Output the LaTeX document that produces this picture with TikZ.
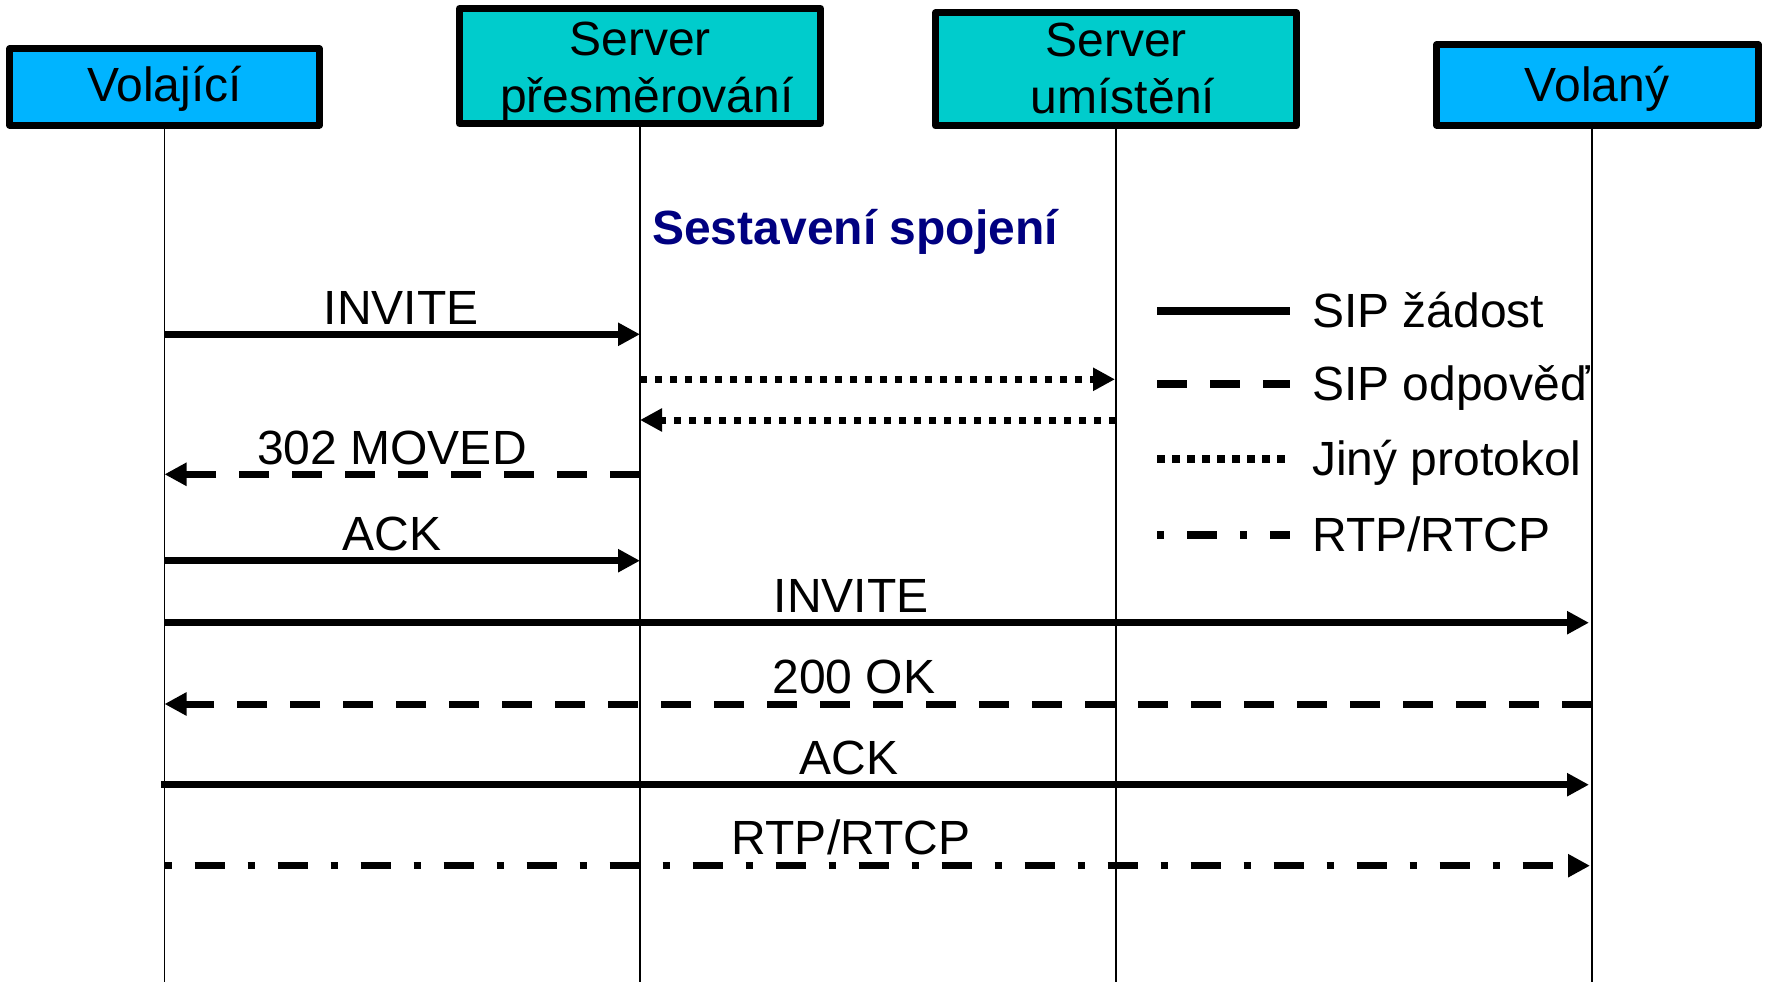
\documentclass[tikz,border=0pt]{standalone}
\usepackage{fontspec}
\setmainfont{Liberation Sans}
\usetikzlibrary{arrows.meta}

\definecolor{partyblue}{RGB}{0,180,255}
\definecolor{serverteal}{RGB}{0,204,204}
\definecolor{titlenavy}{RGB}{0,0,128}

\tikzset{
  actorbox/.style={draw=black, line width=7pt, inner sep=0pt, line join=round},
  bigtext/.style={inner sep=0pt, font=\fontsize{48pt}{57pt}\selectfont},
  msgtext/.style={bigtext, anchor=base},
  lifeline/.style={line width=1.8pt},
  tipend/.style={-{Triangle[length=22pt,width=22pt]}},
  sipreq/.style={line width=7pt, tipend},
  sipresp/.style={line width=7pt, tipend, dash pattern=on 30pt off 23pt},
  otherproto/.style={line width=7pt, tipend, dash pattern=on 7pt off 8pt},
  rtpflow/.style={line width=7pt, tipend, dash pattern=on 7pt off 23pt on 30pt off 23pt},
  legendline/.style={line width=8pt}
}

\begin{document}
\begin{tikzpicture}[x=1pt,y=-1pt]
\useasboundingbox (0,0) rectangle (1767,982);

% participants
\node[actorbox, fill=partyblue, minimum width=310pt, minimum height=76pt] (caller) at (164.5,87) {};
\node[actorbox, fill=serverteal, minimum width=361pt, minimum height=115pt] (redirect) at (640,66) {};
\node[actorbox, fill=serverteal, minimum width=361pt, minimum height=113pt] (location) at (1116,69.3) {};
\node[actorbox, fill=partyblue, minimum width=322pt, minimum height=80pt] (callee) at (1597.5,85) {};

\node[msgtext] (callert) at (164.5,101.5) {Volající};
\node[msgtext] (redirectt1) at (640,56) {Server};
\node[msgtext] (redirectt2) at (647,112) {přesměrování};
\node[msgtext] (locationt1) at (1116,57) {Server};
\node[msgtext] (locationt2) at (1123,113.5) {umístění};
\node[msgtext] (calleet) at (1597,101) {Volaný};

% lifelines
\coordinate (ll1) at (164.5,982);
\coordinate (ll2) at (640,982);
\coordinate (ll3) at (1116,982);
\coordinate (ll4) at (1592,982);
\draw[lifeline] (caller.south -| ll1) -- (ll1);
\draw[lifeline] (redirect.south -| ll2) -- (ll2);
\draw[lifeline] (location.south -| ll3) -- (ll3);
\draw[lifeline] (callee.south -| ll4) -- (ll4);

% heading
\node[msgtext, font=\fontsize{48pt}{57pt}\selectfont\bfseries, text=titlenavy] (heading) at (855,244.3) {Sestavení spojení};

% message rows
\coordinate (m1) at (0,334.3);
\coordinate (m2) at (0,379.3);
\coordinate (m3) at (0,420);
\coordinate (m4) at (0,474.3);
\coordinate (m5) at (0,560.7);
\coordinate (m6) at (0,622.7);
\coordinate (m7) at (0,704);
\coordinate (m8) at (0,784.7);
\coordinate (m9) at (0,865.7);
\coordinate (ackstart) at (161,784.7);

\draw[sipreq] (ll1 |- m1) -- (ll2 |- m1);
\draw[otherproto, shorten >=1pt] (ll2 |- m2) -- (ll3 |- m2);
\draw[otherproto] (ll3 |- m3) -- (ll2 |- m3);
\draw[sipresp] (ll2 |- m4) -- (ll1 |- m4);
\draw[sipreq] (ll1 |- m5) -- (ll2 |- m5);
\draw[sipreq, shorten >=3pt] (ll1 |- m6) -- (ll4 |- m6);
\draw[sipresp] (ll4 |- m7) -- (ll1 |- m7);
\draw[sipreq, shorten >=3pt] (ackstart) -- (ll4 |- m8);
\draw[rtpflow, shorten >=2pt] (ll1 |- m9) -- (ll4 |- m9);

\node[msgtext] (t1) at (401,324) {INVITE};
\node[msgtext] (t4) at (392,464.3) {302 MOVED};
\node[msgtext] (t5) at (392,550) {ACK};
\node[msgtext] (t6) at (851,612.7) {INVITE};
\node[msgtext] (t7) at (854,693.3) {200 OK};
\node[msgtext] (t8) at (849,774.3) {ACK};
\node[msgtext] (t9) at (851,854) {RTP/RTCP};

% legend
\coordinate (lg1a) at (1157,310.7); \coordinate (lg1b) at (1290,310.7);
\coordinate (lg2a) at (1157,384);   \coordinate (lg2b) at (1290,384);
\coordinate (lg3a) at (1157,459.3); \coordinate (lg3b) at (1290,459.3);
\coordinate (lg4a) at (1157,535);   \coordinate (lg4b) at (1290,535);
\draw[legendline] (lg1a) -- (lg1b);
\draw[legendline, dash pattern=on 30pt off 23pt] (lg2a) -- (lg2b);
\draw[legendline, dash pattern=on 8pt off 7pt] (lg3a) -- (lg3b);
\draw[legendline, dash pattern=on 7pt off 23pt on 30pt off 23pt] (lg4a) -- (lg4b);

\node[bigtext, anchor=base west] (lgt1) at (1312,327.7) {SIP žádost};
\node[bigtext, anchor=base west] (lgt2) at (1312,400) {SIP odpověď};
\node[bigtext, anchor=base west] (lgt3) at (1312,475) {Jiný protokol};
\node[bigtext, anchor=base west] (lgt4) at (1312,551) {RTP/RTCP};
\end{tikzpicture}
\end{document}
